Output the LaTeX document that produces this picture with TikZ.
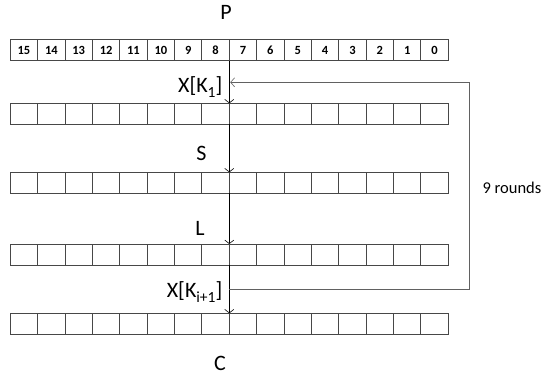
\documentclass[tikz,border=0pt]{standalone}
\usepackage{fontspec}
\setmainfont{Carlito}
\usetikzlibrary{arrows.meta}
\newcommand{\subt}[1]{\raisebox{-0.25em}{\fontsize{15.5}{15.5}\selectfont #1}}
\begin{document}
\begin{tikzpicture}[x=1pt,y=-1pt,
  rowbox/.style={draw=none, minimum width=438pt, minimum height=21pt, inner sep=0pt, outer sep=0pt},
  cell/.style={draw=black!72, line width=1pt, minimum width=27.375pt, minimum height=21pt, inner sep=0pt, outer sep=0pt, font=\fontsize{12.5}{14}\selectfont\bfseries},
  lbl/.style={font=\fontsize{22}{25}\selectfont, inner sep=0pt},
  rlbl/.style={font=\fontsize{16.5}{19}\selectfont, inner sep=0pt},
  flow/.style={draw=black, line width=0.9pt, -{Straight Barb[length=3.5pt,width=9pt,line width=0.6pt]}},
  backline/.style={draw=black!62, line width=1pt, -{Straight Barb[length=4pt,width=9pt,line width=0.6pt]}}
]
\useasboundingbox (0,0) rectangle (553,378);

% rows
\foreach \r/\y in {1/50, 2/113.8, 3/182.8, 4/254.5, 5/323.8}{
  \node[rowbox] (r\r) at (229.3,\y) {};
}
\foreach \i [evaluate=\i as \n using int(15-\i)] in {0,...,15}{
  \node[cell] (r1c\i) at (10.3+13.6875+27.375*\i, 50) {\n};
}
\foreach \r/\y in {2/113.8, 3/182.8, 4/254.5, 5/323.8}{
  \foreach \i in {0,...,15}{
    \node[cell] (r\r c\i) at (10.3+13.6875+27.375*\i, \y) {};
  }
}

% labels
\node[lbl] (P) at (226,12) {P};
\node[lbl, anchor=east] (xk1) at (222.5,87) {X[K\subt{1}]};
\node[lbl] (S) at (201.5,153.5) {S};
\node[lbl] (L) at (200,228.5) {L};
\node[lbl, anchor=east] (xk2) at (222.5,292) {X[K\subt{i+1}]};
\node[lbl] (C) at (220,363.5) {C};
\node[rlbl] (rounds) at (512,188) {9 rounds};

% main flow
\draw[flow] (r1.south) -- (r2.north);
\draw[flow] (r2.south) -- (r3.north);
\draw[flow] (r3.south) -- (r4.north);
\draw[flow] (r4.south) -- (r5.north);

% feedback loop
\coordinate (fbS) at (229.3,289);
\coordinate (fbR) at (469.3,289);
\coordinate (fbT) at (469.3,82.3);
\coordinate (fbE) at (230.2,82.3);
\draw[backline] (fbS) -- (fbR) -- (fbT) -- (fbE);
\end{tikzpicture}
\end{document}
